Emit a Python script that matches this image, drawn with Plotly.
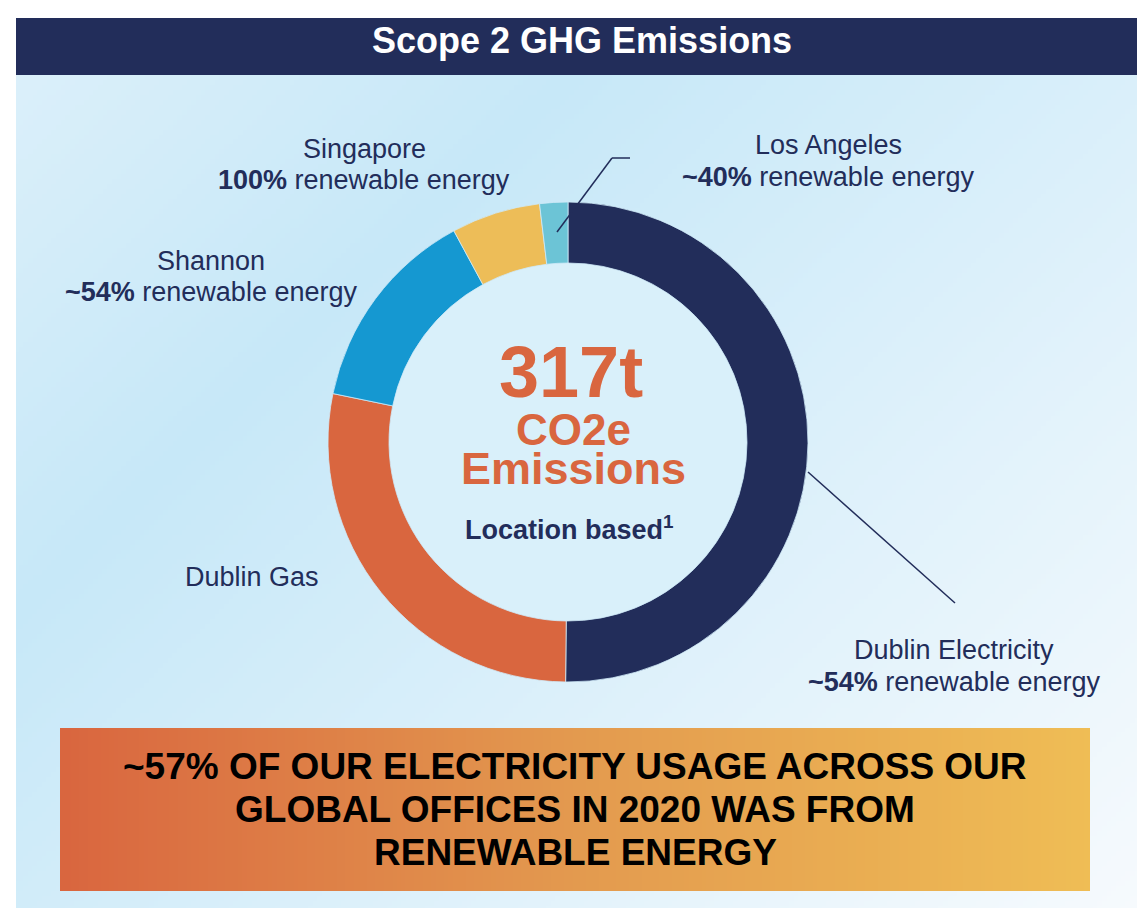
import base64
import struct
import zlib

import numpy as np
import plotly.graph_objects as go

W, H = 1137, 909

sites = ['Dublin Electricity', 'Dublin Gas', 'Shannon', 'Singapore', 'Los Angeles']
emissions_t = [159, 89, 44, 19, 6]
renewable_share = ['~54%', '', '~54%', '100%', '~40%']
colors = ['#222d5a', '#d9663f', '#1598d1', '#edbd58', '#6cc4d6']

title = 'Scope 2 GHG Emissions'
basis = 'Location based<sup>1</sup>'
headline = ['~57% OF OUR ELECTRICITY USAGE ACROSS OUR', 'GLOBAL OFFICES IN 2020 WAS FROM', 'RENEWABLE ENERGY']

NAVY = '#222d5a'
ORANGE = '#d9663f'
FONT = 'Liberation Sans, Arial, sans-serif'

# label line centres in pixels: (x, name line y, share line y)
label_xy = {
    'Dublin Electricity': (954, 650, 682),
    'Dublin Gas': (252, 577, None),
    'Shannon': (211, 261, 292),
    'Singapore': (364, 149, 180),
    'Los Angeles': (828, 145, 177),
}
headline_y = [766, 809, 852]

cx, cy, r_out, r_in = 568, 442, 240, 179


def px(x):
    return x / W


def py(y):
    return 1 - y / H


def hex_rgb(h):
    h = h.lstrip('#')
    return [int(h[i:i + 2], 16) for i in (0, 2, 4)]


def gradient(w, h, stops, wu, wv):
    u = np.linspace(0, 1, w)[None, :]
    v = np.linspace(0, 1, h)[:, None]
    t = wu * u + wv * v
    pos = [s[0] for s in stops]
    out = np.zeros((h, w, 3))
    for k in range(3):
        out[..., k] = np.interp(t, pos, [hex_rgb(s[1])[k] for s in stops])
    return out.round().astype(np.uint8)


def png_uri(rgb):
    h, w, _ = rgb.shape
    raw = b''.join(b'\x00' + rgb[i].tobytes() for i in range(h))

    def chunk(tag, data):
        c = struct.pack('>I', len(data)) + tag + data
        return c + struct.pack('>I', zlib.crc32(tag + data) & 0xffffffff)

    png = (b'\x89PNG\r\n\x1a\n' + chunk(b'IHDR', struct.pack('>IIBBBBB', w, h, 8, 2, 0, 0, 0))
           + chunk(b'IDAT', zlib.compress(raw)) + chunk(b'IEND', b''))
    return 'data:image/png;base64,' + base64.b64encode(png).decode()


bg = gradient(240, 180, [(0, '#ddf0fa'), (0.3, '#c7e8f8'), (1.0, '#f6fafd')], 0.55, 0.45)
banner = gradient(240, 4, [(0, '#d9663f'), (0.5, '#e39a4f'), (1.0, '#efbd55')], 1.0, 0.0)

fig = go.Figure()
fig.add_trace(go.Pie(
    labels=sites, values=emissions_t, hole=r_in / r_out, sort=False, direction='clockwise', rotation=0,
    marker=dict(colors=colors, line=dict(color='#cfeaf8', width=0.8)),
    textinfo='none', hoverinfo='skip', showlegend=False,
    domain=dict(x=[px(cx - r_out), px(cx + r_out)], y=[py(cy + r_out), py(cy - r_out)]),
))

annotations = []
for site, share in zip(sites, renewable_share):
    x, y_name, y_share = label_xy[site]
    annotations.append(dict(x=px(x), y=py(y_name), text=site, font=dict(size=27, color=NAVY, family=FONT)))
    if share:
        annotations.append(dict(x=px(x), y=py(y_share), text=f'<b>{share}</b> renewable energy',
                                font=dict(size=27, color=NAVY, family=FONT)))

total = sum(emissions_t)
annotations += [
    dict(x=px(582), y=py(40), text=f'<b>{title}</b>', font=dict(size=36, color='white', family=FONT)),
    dict(x=px(571), y=py(372), text=f'<b>{total}t</b>', font=dict(size=72, color=ORANGE, family=FONT)),
    dict(x=px(573), y=py(429), text='<b>CO2e</b>', font=dict(size=44, color=ORANGE, family=FONT)),
    dict(x=px(573), y=py(468), text='<b>Emissions</b>', font=dict(size=45, color=ORANGE, family=FONT)),
    dict(x=px(569), y=py(528), text=f'<b>{basis}</b>', font=dict(size=27, color=NAVY, family=FONT)),
]
for line, y in zip(headline, headline_y):
    annotations.append(dict(x=px(575), y=py(y), text=f'<b>{line}</b>', font=dict(size=37, color='black', family=FONT)))
for a in annotations:
    a.update(xref='paper', yref='paper', showarrow=False, xanchor='center', yanchor='middle')

shapes = [
    dict(type='rect', x0=px(16), x1=1, y0=py(75), y1=py(18), fillcolor=NAVY, line=dict(width=0)),
    dict(type='circle', x0=px(cx - r_in), x1=px(cx + r_in), y0=py(cy + r_in), y1=py(cy - r_in),
         fillcolor='#d9f0fa', line=dict(width=0), layer='below'),
    dict(type='line', x0=px(557), y0=py(232), x1=px(612), y1=py(158), line=dict(color=NAVY, width=1.5)),
    dict(type='line', x0=px(612), y0=py(158), x1=px(630), y1=py(158), line=dict(color=NAVY, width=1.5)),
    dict(type='line', x0=px(808), y0=py(472), x1=px(955), y1=py(603), line=dict(color=NAVY, width=1.5)),
]
for s in shapes:
    s.update(xref='paper', yref='paper')

images = [
    dict(source=png_uri(bg), x=px(16), y=py(18), sizex=1 - px(16), sizey=py(18) - py(908)),
    dict(source=png_uri(banner), x=px(60), y=py(728), sizex=px(1090) - px(60), sizey=py(728) - py(891)),
]
for im in images:
    im.update(xref='paper', yref='paper', xanchor='left', yanchor='top', sizing='stretch', layer='below')

fig.update_layout(
    width=W, height=H, margin=dict(l=0, r=0, t=0, b=0),
    paper_bgcolor='white', plot_bgcolor='white',
    annotations=annotations, shapes=shapes, images=images,
)
# drop the default page margin so the figure fills the window exactly
fig.write_html('out.html', config={'displayModeBar': False},
               post_script="document.body.style.margin='0';document.body.style.overflow='hidden';")
